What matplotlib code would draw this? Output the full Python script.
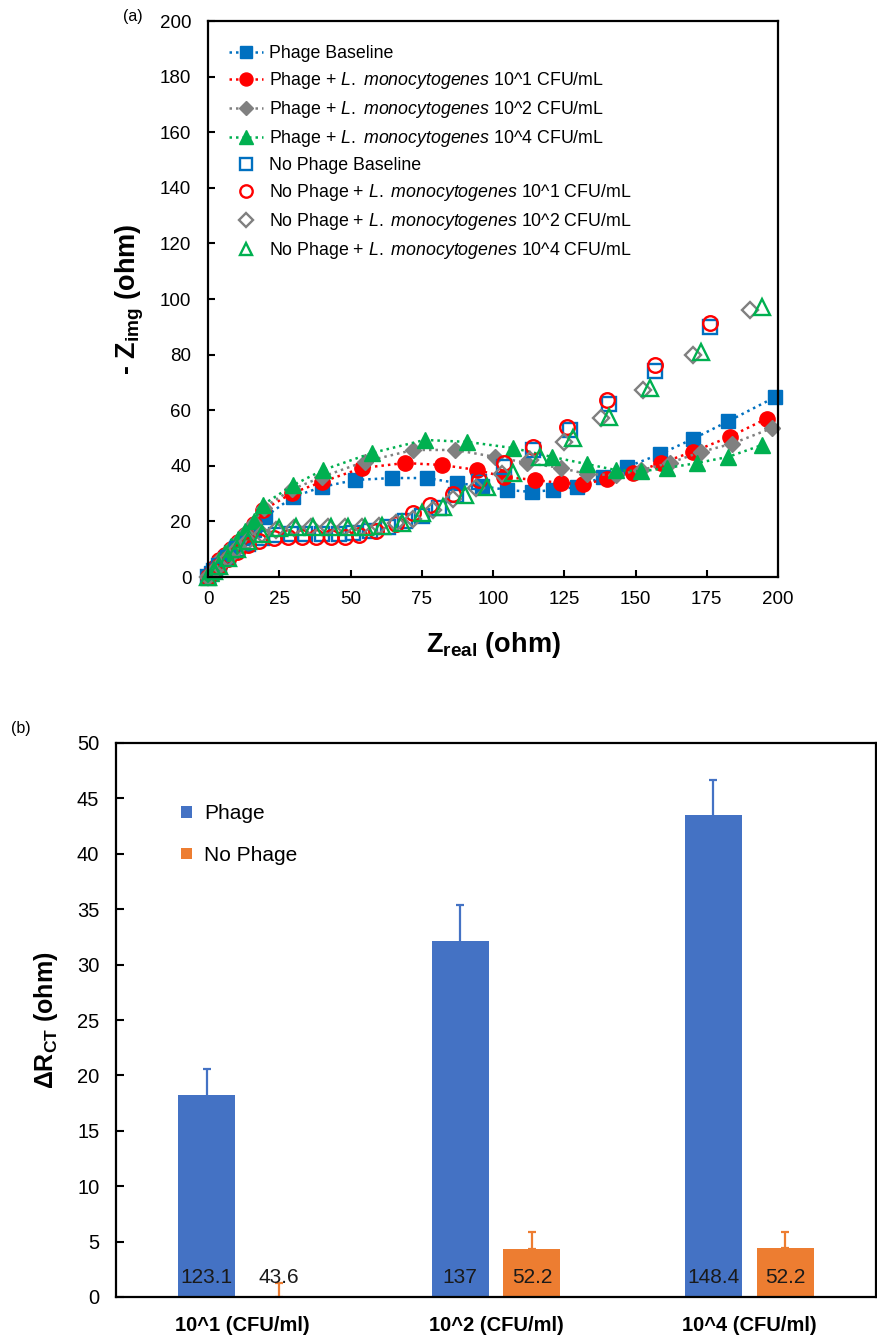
import matplotlib
matplotlib.use("Agg")
import matplotlib.pyplot as plt
import numpy as np

plt.rcParams['font.family'] = ['Liberation Sans', 'DejaVu Sans']
plt.rcParams['mathtext.fontset'] = 'custom'
plt.rcParams['mathtext.rm'] = 'Liberation Sans'
plt.rcParams['mathtext.it'] = 'Liberation Sans:italic'
plt.rcParams['mathtext.bf'] = 'Liberation Sans:bold'

# ---------------- (a) Nyquist data ----------------
ph_base_x = [0, 1, 2.5, 4, 6, 8, 10, 13, 16, 20, 29.8, 40, 51.6, 64.6, 76.8, 87.4, 96, 105, 113.7, 121, 129.5, 138.6, 147, 158.6, 170, 182.5, 199]
ph_base_y = [0, 1.5, 3, 5, 7, 9, 11, 14, 17, 21.6, 28.8, 32.4, 34.9, 35.6, 35.6, 33.8, 32.7, 31.3, 30.6, 31.3, 32.4, 36, 39.6, 44.2, 49.6, 56, 64.7]

ph_1_x = [0, 1, 2.5, 4, 6, 8, 10.5, 13, 16, 19.3, 29.5, 40, 54, 69, 82, 94.4, 104, 114.7, 124, 131.6, 140, 149, 159, 170, 183, 196]
ph_1_y = [0, 1.5, 3.5, 6, 8, 10, 12.5, 15, 19, 24, 30.2, 34.2, 39.2, 41, 40.3, 38.5, 36, 34.9, 33.8, 33.4, 35.2, 37.4, 41, 45, 50.4, 57]

ph_2_x = [0, 1, 2.5, 4, 6, 8, 10.5, 13, 16, 19.5, 29.5, 40, 55, 72, 86.7, 100.7, 112, 124, 133, 143, 152, 162, 173, 184, 198]
ph_2_y = [0, 1.5, 3.5, 6, 8, 10.5, 13, 16, 19.5, 25, 31.5, 36, 41.5, 45.7, 45.7, 43.2, 41, 39.2, 37, 36.7, 38.5, 41, 45, 48, 53.6]

ph_4_x = [0, 1, 2.5, 4, 6, 8, 10.5, 13, 16, 19.3, 29.8, 40.4, 57.5, 76, 91, 107, 120.7, 133, 143, 152, 161, 171.6, 182.5, 194.5]
ph_4_y = [0, 1.5, 4, 6, 8.5, 11, 13.5, 16.5, 20, 26, 33, 38.5, 44.6, 49.3, 48.6, 46.4, 43.2, 40.6, 38.5, 38, 39.2, 41, 43.2, 47.5]

np_base_x = [0, 2, 4, 7, 10, 14, 19, 24, 29, 34, 40, 46, 51, 57, 63, 69, 75, 81, 87, 95, 104, 114, 127, 140.7, 157, 176]
np_base_y = [0, 2, 4, 7, 10, 12, 14, 15, 15.5, 15.5, 15.5, 15.5, 16, 16.5, 18, 20, 22, 25, 29.5, 34, 39.6, 45.7, 52.9, 62.2, 74, 90]

np_1_x = [0, 2, 4, 7, 10, 14, 18, 23, 28, 33, 38, 43, 48, 53, 59, 66, 72, 78, 86, 95, 104, 114, 126, 140, 157, 176]
np_1_y = [0, 2, 4, 6.5, 9, 11.5, 13, 14, 14.5, 14.5, 14.5, 14.5, 14.5, 15, 16.5, 19, 23, 26, 30, 35, 41, 46.8, 54, 63.7, 76.3, 91.4]

np_2_x = [0, 2, 4, 7, 10, 14, 19, 24, 30, 36, 42, 48, 54, 60, 66, 72, 79, 86, 94, 103, 113, 125, 138, 152.6, 170, 190]
np_2_y = [0, 2, 4, 7, 10, 13, 15.5, 17, 17.5, 18, 18, 18, 18, 18.5, 19.5, 21, 24, 28, 32, 37, 42, 48.6, 57.2, 67.3, 80, 96]

np_4_x = [0, 2, 4, 7, 10, 14, 19, 25, 31, 37, 43, 49, 55, 61, 68, 75, 82.5, 90, 98, 107, 116.5, 128, 140.7, 155, 173, 194.5]
np_4_y = [0, 2, 4, 7, 10, 13, 15.5, 17.5, 18, 18, 18, 18, 18, 18.5, 19.5, 23, 25.2, 29.5, 32.4, 37.4, 43.2, 50, 57.6, 68, 81, 97]

x_ticks_a = [0, 25, 50, 75, 100, 125, 150, 175, 200]
y_ticks_a = [0, 20, 40, 60, 80, 100, 120, 140, 160, 180, 200]

# ---------------- (b) bar data ----------------
categories = ["10^1 (CFU/ml)", "10^2 (CFU/ml)", "10^4 (CFU/ml)"]
phage_vals = [18.2, 32.1, 43.5]
phage_err = [2.4, 3.3, 3.2]
nophage_vals = [0.0, 4.3, 4.4]
nophage_err = [1.3, 1.6, 1.5]
phage_labels = ["123.1", "137", "148.4"]
nophage_labels = ["43.6", "52.2", "52.2"]
y_ticks_b = [0, 5, 10, 15, 20, 25, 30, 35, 40, 45, 50]

BLUE = '#0070C0'
RED = '#FF0000'
GRAY = '#808080'
GREEN = '#00B050'

fig = plt.figure(figsize=(8.77, 13.35), dpi=100)

# ===== (a) =====
ax = fig.add_axes([208/877, 1 - 577/1335, 570/877, 556/1335])
lw_sp = 1.6
for s in ax.spines.values():
    s.set_linewidth(lw_sp)

LM = r"$\it{L.}$ $\it{monocytogenes}$"
filled = [
    (ph_base_x, ph_base_y, BLUE, 's', 10, "Phage Baseline"),
    (ph_1_x, ph_1_y, RED, 'o', 11, "Phage + " + LM + " 10^1 CFU/mL"),
    (ph_2_x, ph_2_y, GRAY, 'D', 8.5, "Phage + " + LM + " 10^2 CFU/mL"),
    (ph_4_x, ph_4_y, GREEN, '^', 11.5, "Phage + " + LM + " 10^4 CFU/mL"),
]
openm = [
    (np_base_x, np_base_y, BLUE, 's', 9.5, "No Phage Baseline"),
    (np_1_x, np_1_y, RED, 'o', 10.5, "No Phage + " + LM + " 10^1 CFU/mL"),
    (np_2_x, np_2_y, GRAY, 'D', 8.5, "No Phage + " + LM + " 10^2 CFU/mL"),
    (np_4_x, np_4_y, GREEN, '^', 11, "No Phage + " + LM + " 10^4 CFU/mL"),
]
handles = []
for xs, ys, c, m, ms, lab in filled:
    h, = ax.plot(xs, ys, linestyle=(0, (1, 1.6)), linewidth=1.8, color=c, marker=m,
                 markersize=ms, markerfacecolor=c, markeredgecolor=c, label=lab, clip_on=False)
    handles.append(h)
for xs, ys, c, m, ms, lab in openm:
    h, = ax.plot(xs, ys, linestyle='none', color=c, marker=m, markersize=ms,
                 markerfacecolor='none', markeredgecolor=c, markeredgewidth=1.7, label=lab, clip_on=False)
    handles.append(h)

ax.set_xlim(0, 200)
ax.set_ylim(0, 200)
ax.set_xticks(x_ticks_a)
ax.set_yticks(y_ticks_a)
ax.tick_params(direction='in', length=5, width=1.5, labelsize=13.5, colors='black')
ax.tick_params(axis='y', pad=12)
ax.tick_params(axis='x', pad=10)
ax.set_xlabel(r"$\mathbf{Z_{real}}$ (ohm)", fontsize=19.5, fontweight='bold', labelpad=16)
ax.set_ylabel(r"- $\mathbf{Z_{img}}$ (ohm)", fontsize=19.5, fontweight='bold', labelpad=10)

leg = ax.legend(handles=handles, loc='upper left', bbox_to_anchor=(0.022, 0.972), frameon=False,
                fontsize=12.8, handlelength=1.9, handletextpad=0.35, labelspacing=0.45,
                borderaxespad=0.0, borderpad=0.5, markerscale=0.85)

fig.text(133/877, 1 - 17/1335, "(a)", fontsize=11.5, ha='center', va='center')

# ===== (b) =====
bx = fig.add_axes([116/877, 1 - 1297/1335, 760/877, 554/1335])
for s in bx.spines.values():
    s.set_linewidth(lw_sp)
xpos = np.arange(len(categories))
w = 0.225
off = 0.142
b1 = bx.bar(xpos - off, phage_vals, width=w, color='#4472C4', label='Phage',
            yerr=phage_err, error_kw=dict(ecolor='#4472C4', elinewidth=1.6, capsize=3, capthick=1.6),
            zorder=2)
b2 = bx.bar(xpos + off, nophage_vals, width=w, color='#ED7D31', label='No Phage',
            yerr=[[0] * 3, nophage_err], error_kw=dict(ecolor='#ED7D31', elinewidth=1.6, capsize=3, capthick=1.6),
            zorder=2)
for i in range(len(categories)):
    bx.text(xpos[i] - off, 1.8, phage_labels[i], ha='center', va='center', fontsize=15, color='#1a1a1a', zorder=3)
    bx.text(xpos[i] + off, 1.8, nophage_labels[i], ha='center', va='center', fontsize=15, color='#1a1a1a', zorder=3)

bx.set_xlim(-0.5, 2.5)
bx.set_ylim(0, 50)
bx.set_yticks(y_ticks_b)
bx.set_xticks(xpos)
bx.set_xticklabels(categories, fontweight='bold', fontsize=14.5)
bx.tick_params(axis='x', length=0, pad=14)
bx.tick_params(axis='y', direction='in', length=6, width=1.5, labelsize=14.5, pad=12)
bx.set_ylabel("ΔR$_\\mathbf{CT}$ (ohm)", fontsize=18, fontweight='bold', labelpad=12)
bx.legend(loc='upper left', bbox_to_anchor=(0.075, 0.905), frameon=False, fontsize=15,
          handlelength=0.5, handleheight=0.5, handletextpad=0.6, labelspacing=1.1, borderaxespad=0)

fig.text(21/877, 1 - 728/1335, "(b)", fontsize=11.5, ha='center', va='center')

fig.savefig("out.png", dpi=100)
